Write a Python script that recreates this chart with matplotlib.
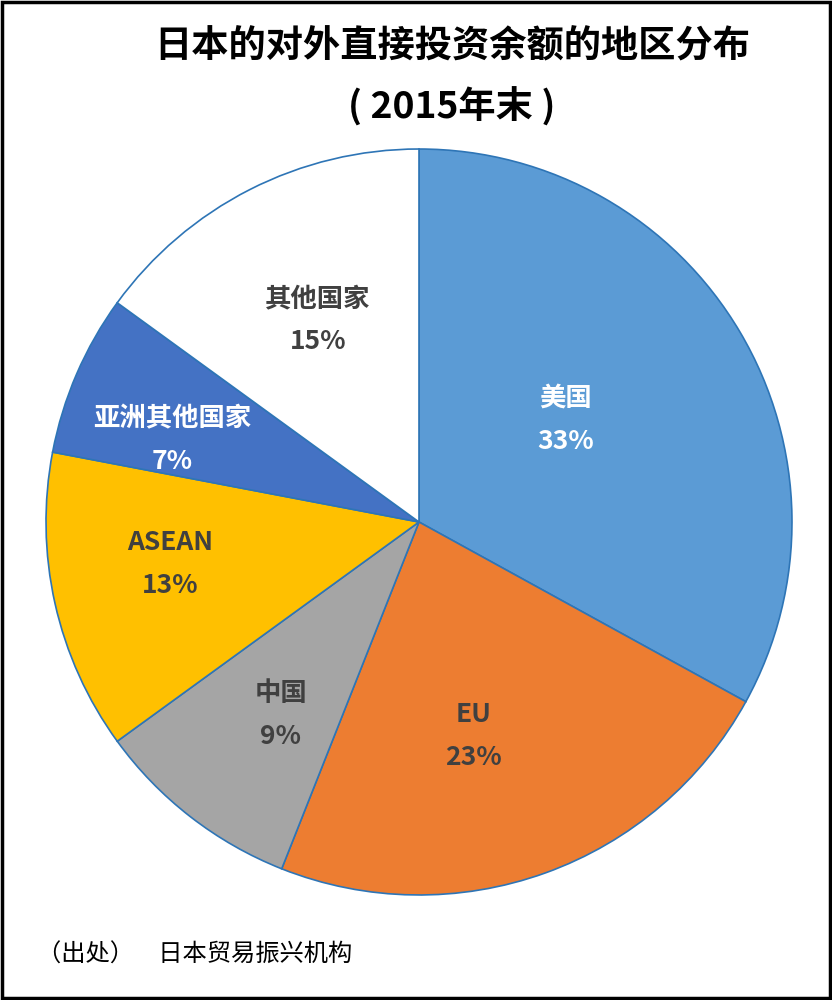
import numpy as np
import matplotlib
matplotlib.use('Agg')
import matplotlib.pyplot as plt
from matplotlib.patches import Rectangle

plt.rcParams['font.family'] = ['Noto Sans CJK SC', 'DejaVu Sans']

# data
regions = ['美国', 'EU', '中国', 'ASEAN', '亚洲其他国家', '其他国家']
shares = [33, 23, 9, 13, 7, 15]
colors = ['#5B9BD5', '#ED7D31', '#A5A5A5', '#FFC000', '#4472C4', '#FFFFFF']
text_colors = ['white', '#404040', '#404040', '#404040', 'white', '#404040']

# label placement (radius as fraction of pie radius, polar angle in degrees)
label_r = [0.48, 0.592, 0.636, 0.677, 0.698, 0.606]
label_ang = [34.8, -75.8, -125.6, -170.4, 161.6, 116.6]

fig = plt.figure(figsize=(8.32, 10), dpi=100)
ax = fig.add_axes([0.0553, 0.105, 0.8966, 0.746])

wedges, _ = ax.pie(shares, colors=colors, startangle=90, counterclock=False,
                   wedgeprops=dict(edgecolor='#2E75B6', linewidth=1.2))
ax.set_xlim(-1, 1)
ax.set_ylim(-1, 1)

for name, val, tc, r, a in zip(regions, shares, text_colors, label_r, label_ang):
    x, y = r * np.cos(np.deg2rad(a)), r * np.sin(np.deg2rad(a))
    ax.text(x, y, f'{name}\n{val}%', ha='center', va='center', color=tc,
            fontsize=19, fontweight='bold', linespacing=1.75)

fig.text(0.544, 0.953, '日本的对外直接投资余额的地区分布', ha='center', va='center',
         fontsize=26.8, fontweight='bold', color='black')
fig.text(0.543, 0.893, '( 2015年末 )', ha='center', va='center',
         fontsize=26.8, fontweight='bold', color='black')
fig.text(0.045, 0.045, '（出处）\u3000日本贸易振兴机构', ha='left', va='center',
         fontsize=17.5, color='black')

fig.patches.append(Rectangle((0.002, 0.002), 0.996, 0.996, transform=fig.transFigure,
                             fill=False, edgecolor='black', linewidth=2.5))

fig.savefig('out.png', dpi=100)
